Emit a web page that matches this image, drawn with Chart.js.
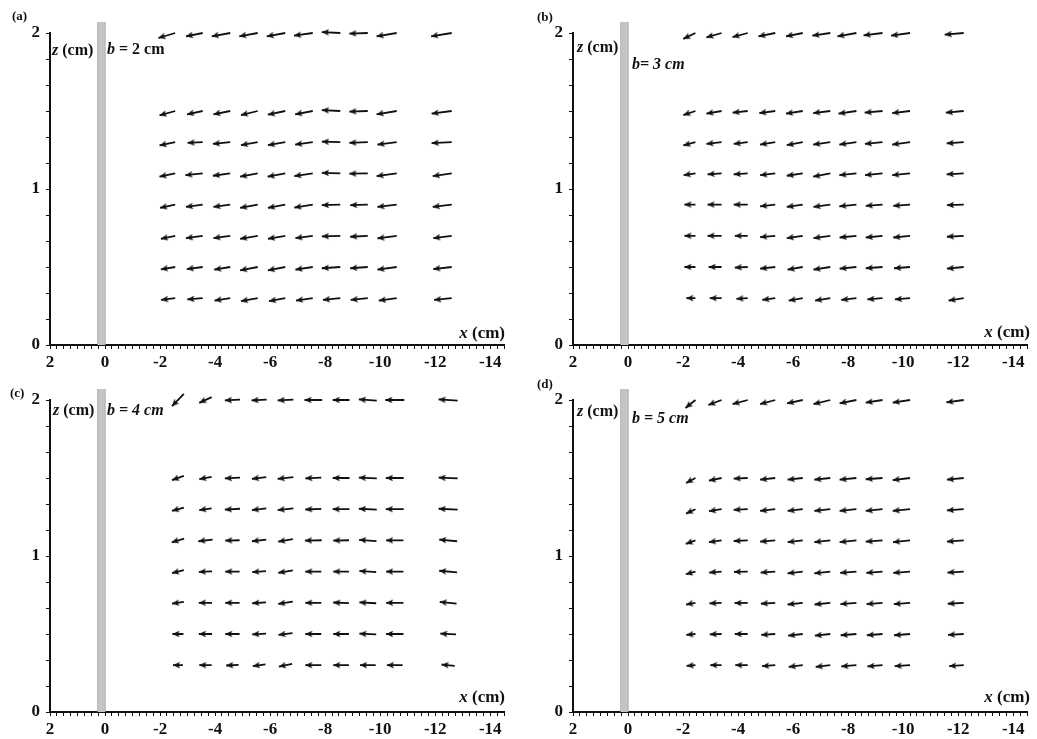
<!DOCTYPE html>
<html>
<head>
<meta charset="utf-8">
<script src="https://cdn.jsdelivr.net/npm/chart.js@4.4.1/dist/chart.umd.min.js"></script>
<style>
  body { margin: 0; background: #fff; }
  #wrap { position: relative; width: 1037px; height: 739px; }
  canvas { position: absolute; }
</style>
</head>
<body>
<div id="wrap">
  <canvas id="pa" width="518" height="368" style="left:0;top:0"></canvas>
  <canvas id="pb" width="519" height="368" style="left:518px;top:0"></canvas>
  <canvas id="pc" width="518" height="371" style="left:0;top:368px"></canvas>
  <canvas id="pd" width="519" height="371" style="left:518px;top:368px"></canvas>
</div>
<script>
// rows of measuring points (z, cm), top to bottom
const zRows = [2.0, 1.5, 1.3, 1.1, 0.9, 0.7, 0.5, 0.3];

// column positions (x, cm) of the arrows in each panel
const aCols = [-2.55, -3.55, -4.55, -5.55, -6.55, -7.55, -8.55, -9.55, -10.6, -12.6];
const bCols = [-2.45, -3.4, -4.35, -5.35, -6.35, -7.35, -8.3, -9.25, -10.25, -12.2];
const cCols = [-2.65, -3.65, -4.63, -5.6, -6.56, -7.57, -8.58, -9.55, -10.53, -12.47];
const dCols = [-2.45, -3.4, -4.35, -5.35, -6.35, -7.35, -8.3, -9.25, -10.25, -12.2];

// arrow components: u along x (towards the wall), w along z (cm), one row per zRows entry
const aU = [
  [0.61, 0.61, 0.67, 0.67, 0.67, 0.68, 0.67, 0.67, 0.73, 0.75],
  [0.57, 0.57, 0.61, 0.61, 0.63, 0.64, 0.67, 0.67, 0.73, 0.73],
  [0.57, 0.55, 0.63, 0.61, 0.63, 0.64, 0.67, 0.67, 0.70, 0.73],
  [0.57, 0.63, 0.63, 0.64, 0.64, 0.67, 0.67, 0.67, 0.73, 0.69],
  [0.55, 0.61, 0.61, 0.64, 0.63, 0.67, 0.67, 0.64, 0.70, 0.69],
  [0.52, 0.61, 0.61, 0.64, 0.63, 0.63, 0.67, 0.64, 0.70, 0.67],
  [0.52, 0.58, 0.58, 0.64, 0.63, 0.63, 0.67, 0.64, 0.70, 0.67],
  [0.51, 0.56, 0.57, 0.61, 0.59, 0.61, 0.63, 0.62, 0.65, 0.64]
];
const aW = [
  [-0.032, -0.021, -0.021, -0.021, -0.021, -0.017, 0.006, -0.004, -0.021, -0.021],
  [-0.028, -0.021, -0.021, -0.026, -0.024, -0.021, 0.006, -0.004, -0.021, -0.017],
  [-0.021, -0.004, -0.011, -0.019, -0.019, -0.015, 0.004, -0.004, -0.015, -0.006],
  [-0.021, -0.011, -0.015, -0.021, -0.021, -0.017, 0.004, -0.002, -0.017, -0.017],
  [-0.021, -0.015, -0.015, -0.021, -0.021, -0.019, -0.004, -0.004, -0.015, -0.015],
  [-0.019, -0.015, -0.015, -0.019, -0.019, -0.015, -0.004, -0.006, -0.017, -0.015],
  [-0.015, -0.013, -0.017, -0.021, -0.021, -0.017, -0.008, -0.008, -0.017, -0.013],
  [-0.011, -0.008, -0.015, -0.019, -0.019, -0.015, -0.011, -0.011, -0.015, -0.011]
];

const bU = [
  [0.44, 0.55, 0.55, 0.61, 0.61, 0.65, 0.69, 0.69, 0.69, 0.69],
  [0.44, 0.55, 0.55, 0.58, 0.61, 0.62, 0.65, 0.65, 0.65, 0.65],
  [0.44, 0.55, 0.51, 0.55, 0.58, 0.62, 0.62, 0.64, 0.65, 0.62],
  [0.43, 0.51, 0.51, 0.55, 0.58, 0.62, 0.62, 0.64, 0.65, 0.62],
  [0.40, 0.51, 0.51, 0.55, 0.58, 0.61, 0.62, 0.61, 0.61, 0.61],
  [0.40, 0.51, 0.47, 0.55, 0.58, 0.61, 0.61, 0.61, 0.61, 0.61],
  [0.40, 0.47, 0.47, 0.55, 0.55, 0.61, 0.61, 0.61, 0.58, 0.61],
  [0.33, 0.43, 0.41, 0.47, 0.51, 0.55, 0.55, 0.55, 0.55, 0.55]
];
const bW = [
  [-0.038, -0.028, -0.026, -0.021, -0.021, -0.017, -0.021, -0.015, -0.017, -0.011],
  [-0.026, -0.017, -0.011, -0.013, -0.017, -0.013, -0.017, -0.011, -0.013, -0.011],
  [-0.021, -0.011, -0.011, -0.015, -0.019, -0.015, -0.015, -0.011, -0.015, -0.008],
  [-0.011, -0.006, -0.006, -0.011, -0.015, -0.021, -0.011, -0.011, -0.011, -0.006],
  [0, 0, 0, -0.011, -0.015, -0.015, -0.011, -0.008, -0.008, -0.004],
  [0, 0, 0, -0.008, -0.015, -0.015, -0.011, -0.011, -0.011, -0.006],
  [0, 0, -0.004, -0.011, -0.017, -0.017, -0.011, -0.008, -0.008, -0.011],
  [0, 0, -0.004, -0.011, -0.015, -0.015, -0.011, -0.008, -0.008, -0.015]
];

const cU = [
  [0.43, 0.45, 0.55, 0.55, 0.57, 0.64, 0.61, 0.65, 0.69, 0.69],
  [0.43, 0.45, 0.55, 0.52, 0.57, 0.58, 0.61, 0.65, 0.65, 0.69],
  [0.43, 0.45, 0.55, 0.52, 0.57, 0.58, 0.61, 0.65, 0.65, 0.69],
  [0.45, 0.52, 0.52, 0.52, 0.53, 0.61, 0.57, 0.63, 0.63, 0.65],
  [0.43, 0.48, 0.52, 0.50, 0.53, 0.58, 0.57, 0.61, 0.63, 0.65],
  [0.43, 0.48, 0.52, 0.50, 0.53, 0.58, 0.57, 0.61, 0.63, 0.61],
  [0.40, 0.48, 0.52, 0.50, 0.51, 0.58, 0.57, 0.61, 0.63, 0.57],
  [0.36, 0.45, 0.45, 0.46, 0.48, 0.58, 0.57, 0.57, 0.57, 0.48]
];
const cW = [
  [-0.079, -0.036, -0.006, -0.006, -0.006, 0, 0, 0.008, 0, 0.008],
  [-0.026, -0.015, -0.006, -0.011, -0.011, -0.004, 0, 0.006, 0, 0.006],
  [-0.021, -0.011, -0.006, -0.011, -0.011, -0.004, 0, 0.006, 0, 0.006],
  [-0.024, -0.011, -0.002, -0.011, -0.017, -0.002, -0.002, 0.008, 0, 0.011],
  [-0.019, -0.004, 0, -0.006, -0.015, 0, 0, 0.008, 0, 0.011],
  [-0.011, 0, 0, -0.006, -0.015, 0, 0.004, 0.006, 0, 0.011],
  [0, 0, 0, -0.006, -0.011, 0, 0, 0.004, 0, 0.006],
  [0, 0, -0.004, -0.011, -0.017, 0, 0, 0, 0, 0.008]
];

const dU = [
  [0.36, 0.48, 0.55, 0.55, 0.57, 0.61, 0.61, 0.61, 0.63, 0.63],
  [0.34, 0.46, 0.51, 0.55, 0.55, 0.58, 0.61, 0.61, 0.63, 0.61],
  [0.34, 0.46, 0.51, 0.55, 0.55, 0.58, 0.61, 0.61, 0.63, 0.61],
  [0.35, 0.46, 0.51, 0.55, 0.55, 0.58, 0.61, 0.61, 0.62, 0.61],
  [0.35, 0.45, 0.50, 0.53, 0.55, 0.58, 0.59, 0.59, 0.61, 0.59],
  [0.34, 0.44, 0.48, 0.52, 0.55, 0.57, 0.58, 0.58, 0.59, 0.58],
  [0.33, 0.43, 0.47, 0.51, 0.53, 0.56, 0.57, 0.57, 0.58, 0.57],
  [0.32, 0.41, 0.45, 0.48, 0.51, 0.53, 0.55, 0.55, 0.56, 0.53]
];
const dW = [
  [-0.051, -0.032, -0.026, -0.026, -0.021, -0.026, -0.021, -0.017, -0.017, -0.015],
  [-0.032, -0.017, -0.004, -0.011, -0.011, -0.011, -0.011, -0.008, -0.013, -0.011],
  [-0.028, -0.013, -0.004, -0.011, -0.011, -0.011, -0.011, -0.011, -0.011, -0.008],
  [-0.022, -0.011, -0.004, -0.008, -0.011, -0.011, -0.011, -0.008, -0.011, -0.008],
  [-0.017, -0.006, -0.002, -0.006, -0.011, -0.011, -0.008, -0.008, -0.008, -0.006],
  [-0.011, -0.004, -0.002, -0.006, -0.011, -0.011, -0.008, -0.008, -0.008, -0.006],
  [-0.006, -0.002, 0, -0.006, -0.011, -0.011, -0.008, -0.008, -0.008, -0.006],
  [-0.004, 0, 0, -0.006, -0.011, -0.011, -0.008, -0.008, -0.006, -0.006]
];

// wall (grey plate): x extent and height (cm)
const wallX = [0.28, -0.02];
const wallTop = 2.07;

// axes
const xLabelVals = [2, 0, -2, -4, -6, -8, -10, -12, -14];
const xLabels = ['2', '0', '-2', '-4', '-6', '-8', '-10', '-12', '-14'];
const yLabelVals = [0, 1, 2];
const yLabels = ['0', '1', '2'];
const xMinorStep = 0.25;
const yMinorStep = 1 / 6;

const ink = '#111';
const serif = '"Liberation Serif", "Times New Roman", serif';

const xTickVals = [];
for (let v = 2; v >= -14.5; v -= xMinorStep) xTickVals.push(v);
const yTickVals = [];
for (let k = 0; k <= 12; k++) yTickVals.push(k * yMinorStep);

// arrowhead image, tip at the centre, pointing along +x
function makeHead() {
  const c = document.createElement('canvas');
  c.width = 18;
  c.height = 18;
  const g = c.getContext('2d');
  g.fillStyle = ink;
  g.beginPath();
  g.moveTo(9, 9);
  g.lineTo(2, 5.8);
  g.lineTo(3.4, 9);
  g.lineTo(2, 12.2);
  g.closePath();
  g.fill();
  return c;
}
const headImg = makeHead();

function buildArrows(cols, u, w, anchor) {
  const shafts = [];
  const heads = [];
  const k = anchor === 'mid' ? 0.5 : 0;
  zRows.forEach((z, r) => {
    cols.forEach((x, c) => {
      const tx = x - u[r][c] * k;
      const tz = z - w[r][c] * k;
      const hx = tx + u[r][c];
      const hz = tz + w[r][c];
      shafts.push({ x: tx, y: tz }, { x: hx, y: hz }, { x: hx, y: null });
      heads.push({ x: hx, y: hz, tx: tx, tz: tz });
    });
  });
  return { shafts, heads };
}

function headAngle(ctx) {
  const r = ctx.raw;
  if (!r) return 0;
  const sx = ctx.chart.scales.x;
  const sy = ctx.chart.scales.y;
  const dx = sx.getPixelForValue(r.x) - sx.getPixelForValue(r.tx);
  const dy = sy.getPixelForValue(r.y) - sy.getPixelForValue(r.tz);
  return Math.atan2(dy, dx) * 180 / Math.PI;
}

// wall drawn as a thick vertical line, its width taken from the x scale
function wallWidth(extra) {
  return ctx => {
    const sx = ctx.chart.scales.x;
    if (!sx) return 1;
    return Math.abs(sx.getPixelForValue(wallX[0]) - sx.getPixelForValue(wallX[1])) + extra;
  };
}

function textPlugin(items) {
  return {
    id: 'panelText',
    afterDraw(chart) {
      const { ctx, chartArea: a } = chart;
      ctx.save();
      ctx.fillStyle = ink;
      ctx.textBaseline = 'middle';
      ctx.textAlign = 'left';
      items.forEach(it => {
        const fonts = it.parts.map(p => (p[1] ? 'italic ' : '') + 'bold ' + it.size + 'px ' + serif);
        let total = 0;
        const widths = it.parts.map((p, i) => {
          ctx.font = fonts[i];
          const wd = ctx.measureText(p[0]).width;
          total += wd;
          return wd;
        });
        let x = (it.ref === 'rb' ? a.right : a.left) + it.dx;
        const y = (it.ref === 'rb' ? a.bottom : a.top) + it.dy;
        if (it.align === 'right') x -= total;
        it.parts.forEach((p, i) => {
          ctx.font = fonts[i];
          ctx.fillText(p[0], x, y);
          x += widths[i];
        });
      });
      ctx.restore();
    }
  };
}

const panels = [
  { id: 'pa', cols: aCols, u: aU, w: aW, anchor: 'tail', yw: 50, xh: 23, top: 33, right: 14,
    texts: [
      { parts: [['(a)', false]], ref: 'lt', dx: -38, dy: -16, size: 13 },
      { parts: [['z', true], [' (cm)', false]], ref: 'lt', dx: 2, dy: 18, size: 16 },
      { parts: [['b', true], [' = 2 cm', false]], ref: 'lt', dx: 57, dy: 17, size: 16 },
      { parts: [['x', true], [' (cm)', false]], ref: 'rb', dx: 1, dy: -11, size: 17, align: 'right' }
    ] },
  { id: 'pb', cols: bCols, u: bU, w: bW, anchor: 'tail', yw: 55, xh: 23, top: 33, right: 10,
    texts: [
      { parts: [['(b)', false]], ref: 'lt', dx: -36, dy: -15, size: 13 },
      { parts: [['z', true], [' (cm)', false]], ref: 'lt', dx: 4, dy: 15, size: 16 },
      { parts: [['b= 3 cm', true]], ref: 'lt', dx: 59, dy: 32, size: 16 },
      { parts: [['x', true], [' (cm)', false]], ref: 'rb', dx: 3, dy: -12, size: 17, align: 'right' }
    ] },
  { id: 'pc', cols: cCols, u: cU, w: cW, anchor: 'mid', yw: 50, xh: 27, top: 32, right: 14,
    texts: [
      { parts: [['(c)', false]], ref: 'lt', dx: -40, dy: -6, size: 13 },
      { parts: [['z', true], [' (cm)', false]], ref: 'lt', dx: 3, dy: 11, size: 16 },
      { parts: [['b = 4 cm', true]], ref: 'lt', dx: 57, dy: 11, size: 16 },
      { parts: [['x', true], [' (cm)', false]], ref: 'rb', dx: 1, dy: -14, size: 17, align: 'right' }
    ] },
  { id: 'pd', cols: dCols, u: dU, w: dW, anchor: 'tail', yw: 55, xh: 27, top: 32, right: 10,
    texts: [
      { parts: [['(d)', false]], ref: 'lt', dx: -36, dy: -15, size: 13 },
      { parts: [['z', true], [' (cm)', false]], ref: 'lt', dx: 4, dy: 12, size: 16 },
      { parts: [['b = 5 cm', true]], ref: 'lt', dx: 59, dy: 19, size: 16 },
      { parts: [['x', true], [' (cm)', false]], ref: 'rb', dx: 3, dy: -14, size: 17, align: 'right' }
    ] }
];

const tickFont = { family: serif, size: 17, weight: 'bold' };

function makeChart(p) {
  const { shafts, heads } = buildArrows(p.cols, p.u, p.w, p.anchor);
  const wallMid = (wallX[0] + wallX[1]) / 2;
  const wallPts = [{ x: wallMid, y: 0 }, { x: wallMid, y: wallTop }];
  return new Chart(document.getElementById(p.id), {
    type: 'scatter',
    data: {
      datasets: [
        { type: 'line', data: shafts, borderColor: ink, borderWidth: 1.8, pointRadius: 0,
          spanGaps: false, fill: false, clip: false },
        { data: heads, pointStyle: headImg, rotation: headAngle, pointRadius: 7, clip: false },
        { type: 'line', data: wallPts, borderColor: '#c4c4c4', borderWidth: wallWidth(-1.5),
          pointRadius: 0, fill: false, clip: false },
        { type: 'line', data: wallPts, borderColor: '#9c9c9c', borderWidth: wallWidth(0),
          pointRadius: 0, fill: false, clip: false }
      ]
    },
    options: {
      responsive: false,
      animation: false,
      events: [],
      layout: { padding: { top: p.top, right: p.right, left: 0, bottom: 0 } },
      plugins: { legend: { display: false }, tooltip: { enabled: false } },
      scales: {
        x: {
          type: 'linear', reverse: true, min: -14.5, max: 2,
          afterBuildTicks: s => { s.ticks = xTickVals.map(v => ({ value: v })); },
          afterFit: s => { s.height = p.xh; },
          ticks: {
            autoSkip: false, maxRotation: 0, minRotation: 0, padding: 3,
            color: ink, font: tickFont,
            callback: v => { const i = xLabelVals.indexOf(v); return i >= 0 ? xLabels[i] : ''; }
          },
          grid: { drawOnChartArea: false, color: ink, tickLength: 4, lineWidth: 1 },
          border: { color: ink, width: 2 }
        },
        y: {
          type: 'linear', min: 0, max: 2,
          afterBuildTicks: s => { s.ticks = yTickVals.map(v => ({ value: v })); },
          afterFit: s => { s.width = p.yw; },
          ticks: {
            autoSkip: false, padding: 6, color: ink, font: tickFont,
            callback: v => {
              const i = yLabelVals.findIndex(t => Math.abs(t - v) < 1e-9);
              return i >= 0 ? yLabels[i] : '';
            }
          },
          grid: { drawOnChartArea: false, color: ink, tickLength: 4, lineWidth: 1 },
          border: { color: ink, width: 2 }
        }
      }
    },
    plugins: [textPlugin(p.texts)]
  });
}

panels.forEach(makeChart);
</script>
</body>
</html>
